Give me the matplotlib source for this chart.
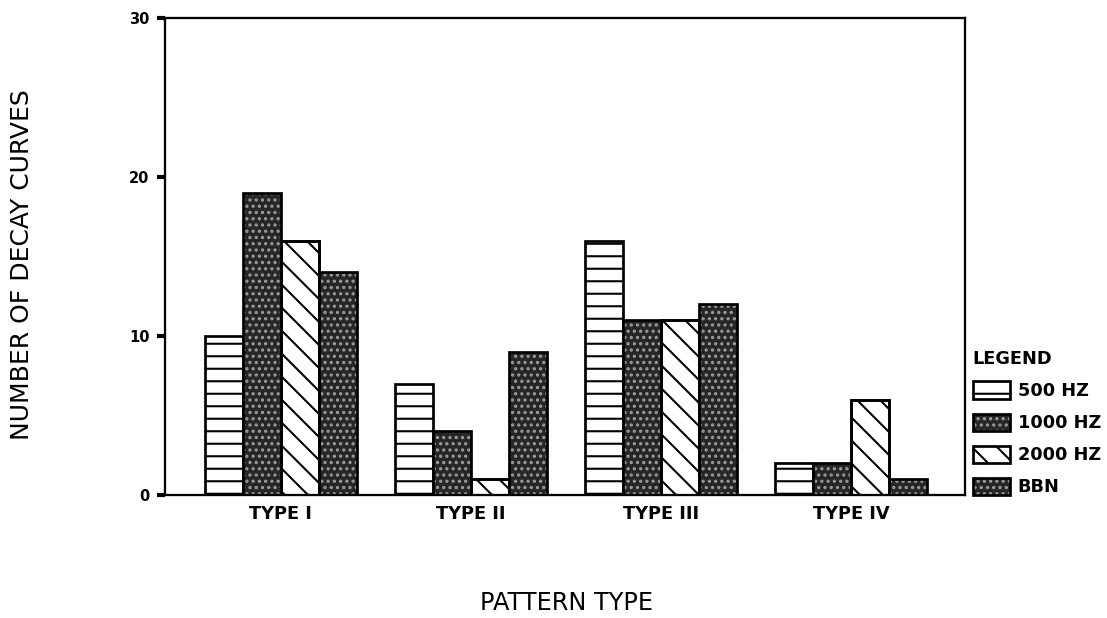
import matplotlib
matplotlib.use("Agg")
import matplotlib.pyplot as plt
import numpy as np
from matplotlib.patches import Patch
from matplotlib.legend_handler import HandlerTuple
from matplotlib.collections import LineCollection
from matplotlib.transforms import IdentityTransform

# Counts of decay curves per pattern type and stimulus
pattern_types = ["TYPE I", "TYPE II", "TYPE III", "TYPE IV"]
hz_500 = [10, 7, 16, 2]
hz_1000 = [19, 4, 11, 2]
hz_2000 = [16, 1, 11, 6]
bbn = [14, 9, 12, 1]
series_labels = ["500 HZ", "1000 HZ", "2000 HZ", "BBN"]
y_ticks = [0, 10, 20, 30]

DPI = 150
W_PX, H_PX = 1107, 618
plt.rcParams["font.family"] = ["DejaVu Sans"]
plt.rcParams["hatch.linewidth"] = 1.0

fig = plt.figure(figsize=(W_PX / DPI, H_PX / DPI), dpi=DPI)
ax = fig.add_axes([165 / W_PX, 1 - 495 / H_PX, 800 / W_PX, (495 - 18) / H_PX])

x = np.arange(len(pattern_types))
w = 0.2
EDGE_LW = 1.3
STIPPLE_FACE = "#262626"
STIPPLE_DOT = "#9a9a9a"
DIAG_STEP = 23  # vertical spacing of the diagonal strokes, in pixels


def stipple_bars(xpos, vals):
    ax.bar(xpos, vals, w, facecolor=STIPPLE_FACE, edgecolor=STIPPLE_DOT,
           linewidth=0, hatch="....", zorder=2)
    ax.bar(xpos, vals, w, fill=False, edgecolor="black", linewidth=EDGE_LW, zorder=3)


def diagonal_strokes(patch, axis):
    """Fill a patch with 45-degree strokes running down to the right."""
    bb = axis.get_window_extent()
    span = bb.width + bb.height
    offsets = np.arange(-span, span, DIAG_STEP)
    segs = [[(bb.x0 - 10, bb.y1 + 10 + c), (bb.x1 + 10, bb.y1 + 10 + c - (bb.width + 20))]
            for c in offsets]
    lc = LineCollection(segs, colors="black", linewidths=1.0,
                        transform=IdentityTransform(), zorder=2.5)
    axis.add_collection(lc, autolim=False)
    lc.set_clip_path(patch.get_path(), patch.get_transform())


ax.bar(x - 1.5 * w, hz_500, w, facecolor="white", edgecolor="black",
       linewidth=EDGE_LW, hatch="--", zorder=2)
stipple_bars(x - 0.5 * w, hz_1000)
bars_2000 = ax.bar(x + 0.5 * w, hz_2000, w, facecolor="white", edgecolor="black",
                   linewidth=EDGE_LW, zorder=2)
stipple_bars(x + 1.5 * w, bbn)

ax.set_xlim(-0.61, 3.6)
ax.set_ylim(0, 30)

for b in bars_2000:
    diagonal_strokes(b, ax)
ax.bar(x + 0.5 * w, hz_2000, w, fill=False, edgecolor="black",
       linewidth=EDGE_LW, zorder=3)

ax.set_yticks(y_ticks)
ax.set_yticklabels([str(t) for t in y_ticks], fontsize=7, fontweight="bold")
ax.set_xticks(x)
ax.set_xticklabels(pattern_types, fontsize=8.5, fontweight="bold")
ax.tick_params(axis="x", length=0, pad=5)
ax.tick_params(axis="y", length=4, width=2, pad=3.5)
for s in ax.spines.values():
    s.set_linewidth(1.1)

fig.text(22 / W_PX, 1 - 265 / H_PX, "NUMBER OF DECAY CURVES", rotation=90,
         ha="center", va="center", fontsize=12)
fig.text(567 / W_PX, 1 - 603 / H_PX, "PATTERN TYPE", ha="center", va="center",
         fontsize=11.5)


def stipple_handle():
    return (Patch(facecolor=STIPPLE_FACE, edgecolor=STIPPLE_DOT, linewidth=0, hatch="...."),
            Patch(fill=False, edgecolor="black", linewidth=EDGE_LW))


handles = [
    Patch(facecolor="white", edgecolor="black", linewidth=EDGE_LW, hatch="--"),
    stipple_handle(),
    Patch(facecolor="white", edgecolor="black", linewidth=EDGE_LW, hatch="\\\\"),
    stipple_handle(),
]
leg = fig.legend(handles, series_labels, loc="lower left",
                 bbox_to_anchor=(969 / W_PX, 1 - 500 / H_PX),
                 bbox_transform=fig.transFigure, frameon=False,
                 title="LEGEND", alignment="left",
                 prop={"size": 8.5, "weight": "bold"},
                 title_fontproperties={"size": 8.5, "weight": "bold"},
                 handlelength=2.1, handleheight=1.15, labelspacing=0.75,
                 handletextpad=0.45, borderpad=0.2, borderaxespad=0,
                 handler_map={tuple: HandlerTuple(ndivide=1, pad=0)})

fig.savefig("out.png", dpi=DPI)
